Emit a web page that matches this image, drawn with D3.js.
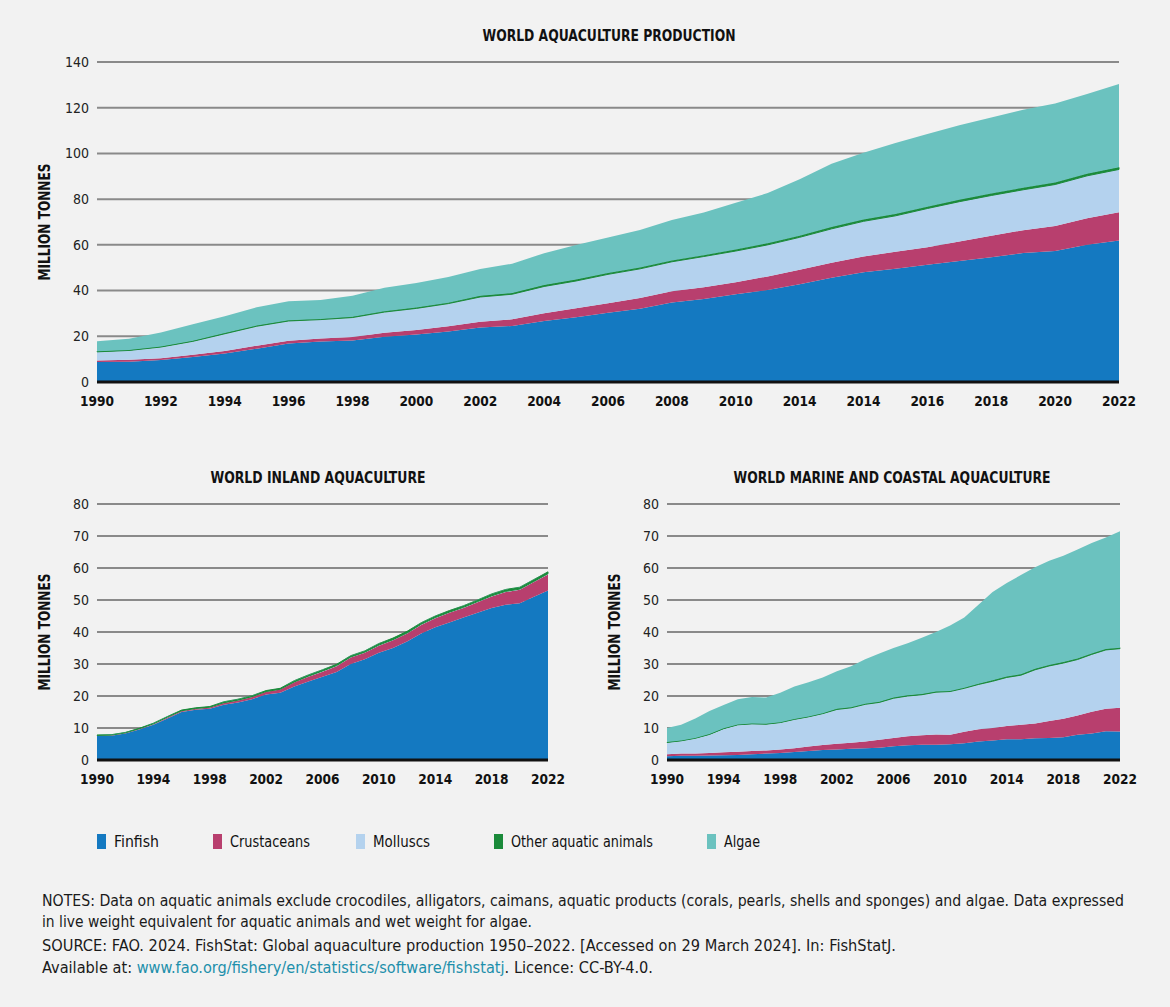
<!DOCTYPE html>
<html>
<head>
<meta charset="utf-8">
<script src="https://cdn.jsdelivr.net/npm/d3@7"></script>
<style>
  body { margin: 0; background: #f2f2f2; }
  svg { font-family: "Liberation Sans Narrow", "DejaVu Sans Condensed", sans-serif; }
  .notes { font-size: 15px; fill: #1a1a1a; }
</style>
</head>
<body>
<div class="chart"></div>
<script>
const years = d3.range(1990, 2023);
const categories = ["Finfish", "Crustaceans", "Molluscs", "Other aquatic animals", "Algae"];
const colors = ["#1479c1", "#b83f6e", "#b4d2ee", "#1a8a3a", "#6bc2bf"];

// inland aquaculture, million tonnes
const inlandFinfish = [7.5,7.6,8.3,9.5,11,13,15,15.7,16,17.3,18,19,20.5,21,23,24.5,26,27.5,30,31.5,33.5,35,37,39.5,41.5,43,44.5,46,47.5,48.5,49,51,53];
const inlandCrustaceans = [0.1,0.1,0.1,0.2,0.2,0.3,0.3,0.3,0.4,0.5,0.6,0.7,0.8,1,1.3,1.5,1.6,1.8,2,2,2.2,2.4,2.5,2.7,2.8,3,3,3.3,3.6,4,4.2,4.6,5];
const inlandMolluscs = [0.1,0.1,0.1,0.1,0.1,0.1,0.1,0.1,0.1,0.1,0.1,0.1,0.1,0.1,0.1,0.2,0.2,0.2,0.2,0.2,0.2,0.2,0.2,0.2,0.2,0.2,0.2,0.2,0.2,0.2,0.2,0.2,0.2];
const inlandOther = [0.1,0.1,0.1,0.1,0.2,0.2,0.2,0.2,0.2,0.3,0.3,0.3,0.3,0.3,0.4,0.4,0.4,0.4,0.4,0.4,0.5,0.5,0.5,0.5,0.5,0.5,0.5,0.5,0.6,0.6,0.6,0.6,0.6];
const inlandAlgae = [0.05,0.05,0.05,0.05,0.05,0.05,0.05,0.05,0.05,0.05,0.05,0.05,0.05,0.05,0.05,0.05,0.05,0.05,0.05,0.05,0.05,0.05,0.05,0.05,0.05,0.05,0.05,0.05,0.05,0.05,0.05,0.05,0.05];

// marine and coastal aquaculture, million tonnes
const marineFinfish = [1.2,1.3,1.3,1.4,1.5,1.6,1.8,2.0,2.2,2.5,2.8,3.1,3.3,3.5,3.7,3.8,4.3,4.6,4.8,4.8,4.9,5.2,5.8,6.1,6.5,6.5,6.8,6.9,7.1,7.9,8.3,9.0,8.9];
const marineCrustaceans = [0.6,0.7,0.7,0.8,0.9,1.0,1.0,1.0,1.1,1.2,1.4,1.6,1.8,1.9,2.1,2.5,2.6,2.8,2.9,3.2,3.0,3.6,3.8,3.9,4.1,4.5,4.6,5.3,5.8,6.0,6.8,7.0,7.4];
const marineMolluscs = [3.7,4.0,4.8,5.8,7.4,8.4,8.5,8.2,8.4,9.0,9.3,9.8,10.7,10.9,11.6,11.7,12.4,12.6,12.7,13.2,13.5,13.6,14.0,14.6,15.2,15.5,16.8,17.2,17.4,17.5,17.9,18.4,18.5];
const marineOther = [0.1,0.1,0.1,0.1,0.1,0.1,0.1,0.1,0.1,0.1,0.1,0.1,0.2,0.2,0.2,0.2,0.2,0.2,0.2,0.2,0.2,0.2,0.2,0.3,0.3,0.3,0.3,0.3,0.3,0.3,0.3,0.3,0.3];
const marineAlgae = [4.4,4.9,6.1,7.2,7.3,7.9,8.3,8.2,9.2,10.2,10.7,11.2,11.7,12.8,13.9,15.1,15.5,16.3,17.6,18.6,20.4,21.9,24.7,27.6,29.2,31.0,31.7,32.6,33.2,34.1,34.5,34.8,36.4];

// top chart tick labels (as printed, incl. the repeated 2014)
const topTickYears = d3.range(1990, 2023, 2);
const topTickLabels = ["1990","1992","1994","1996","1998","2000","2002","2004","2006","2008","2010","2014","2014","2016","2018","2020","2022"];
const bottomTickYears = d3.range(1990, 2023, 4);

const keys = ["finfish", "crustaceans", "molluscs", "other", "algae"];
function rows(series) {
  return years.map((yr, i) => {
    const r = { year: yr };
    keys.forEach((k, j) => r[k] = series[j][i]);
    return r;
  });
}
const inlandRows = rows([inlandFinfish, inlandCrustaceans, inlandMolluscs, inlandOther, inlandAlgae]);
const marineRows = rows([marineFinfish, marineCrustaceans, marineMolluscs, marineOther, marineAlgae]);
const worldRows = inlandRows.map((r, i) => {
  const w = { year: r.year };
  keys.forEach(k => w[k] = r[k] + marineRows[i][k]);
  return w;
});

const W = 1170, H = 1007;
const svg = d3.select(".chart").append("svg").attr("width", W).attr("height", H);
svg.append("rect").attr("width", W).attr("height", H).attr("fill", "#f2f2f2");

function drawChart(opt) {
  const g = svg.append("g").attr("transform", `translate(${opt.left},${opt.top})`);
  const w = opt.width, h = opt.height;
  const x = d3.scaleLinear().domain([1990, 2022]).range([0, w]);
  const y = d3.scaleLinear().domain([0, opt.ymax]).range([h, 0]);

  g.selectAll(".grid").data(d3.range(opt.ystep, opt.ymax + 1, opt.ystep)).join("line")
    .attr("x1", 0).attr("x2", w)
    .attr("y1", d => y(d)).attr("y2", d => y(d))
    .attr("stroke", "#8a8a8a").attr("stroke-width", 2);

  const stack = d3.stack().keys(keys)(opt.data);
  const area = d3.area().x(d => x(d.data.year)).y0(d => y(d[0])).y1(d => y(d[1]));
  g.selectAll(".layer").data(stack).join("path")
    .attr("fill", (d, i) => colors[i])
    .attr("stroke", (d, i) => i === 3 ? colors[3] : "none")
    .attr("stroke-width", 1)
    .attr("d", area);

  g.append("line").attr("x1", 0).attr("x2", w).attr("y1", h).attr("y2", h)
    .attr("stroke", "#111").attr("stroke-width", 3);

  g.selectAll(".ytick").data(d3.range(0, opt.ymax + 1, opt.ystep)).join("text")
    .attr("x", -8).attr("y", d => y(d)).attr("dy", "0.35em")
    .attr("text-anchor", "end").attr("font-size", 14).attr("fill", "#222")
    .text(d => d);

  g.selectAll(".xtick").data(opt.tickYears).join("text")
    .attr("x", d => x(d)).attr("y", h + 24)
    .attr("text-anchor", "middle").attr("font-size", 14).attr("font-weight", "bold").attr("fill", "#111")
    .attr("textLength", 34).attr("lengthAdjust", "spacingAndGlyphs")
    .text((d, i) => opt.tickLabels ? opt.tickLabels[i] : d);

  g.append("text").attr("x", opt.titleX).attr("y", opt.titleY)
    .attr("text-anchor", "middle").attr("font-size", 16).attr("font-weight", "bold").attr("fill", "#111")
    .attr("textLength", opt.titleLen).attr("lengthAdjust", "spacingAndGlyphs")
    .text(opt.title);

  g.append("text").attr("transform", `translate(${opt.ylabelX},${h / 2}) rotate(-90)`)
    .attr("text-anchor", "middle").attr("font-size", 16).attr("font-weight", "bold").attr("fill", "#111")
    .attr("textLength", 117).attr("lengthAdjust", "spacingAndGlyphs")
    .text("MILLION TONNES");
}

drawChart({ data: worldRows, left: 97, top: 62, width: 1022, height: 320, ymax: 140, ystep: 20,
  tickYears: topTickYears, tickLabels: topTickLabels, title: "WORLD AQUACULTURE PRODUCTION",
  titleX: 512, titleLen: 253, titleY: -21, ylabelX: -47 });
drawChart({ data: inlandRows, left: 97, top: 504, width: 451, height: 256, ymax: 80, ystep: 10,
  tickYears: bottomTickYears, title: "WORLD INLAND AQUACULTURE",
  titleX: 221, titleLen: 215, titleY: -21, ylabelX: -47 });
drawChart({ data: marineRows, left: 667, top: 504, width: 453, height: 256, ymax: 80, ystep: 10,
  tickYears: bottomTickYears, title: "WORLD MARINE AND COASTAL AQUACULTURE",
  titleX: 225, titleLen: 317, titleY: -21, ylabelX: -47 });

// legend
const legendX = [97, 213, 356, 494, 707];
const legendLen = [45, 80, 57, 142, 36];
const legend = svg.selectAll(".legend").data(categories).join("g")
  .attr("transform", (d, i) => `translate(${legendX[i]},841)`);
legend.append("rect").attr("x", 0).attr("y", -7).attr("width", 9).attr("height", 15)
  .attr("fill", (d, i) => colors[i]);
legend.append("text").attr("x", 17).attr("dy", "0.35em").attr("font-size", 16).attr("fill", "#111")
  .attr("textLength", (d, i) => legendLen[i]).attr("lengthAdjust", "spacingAndGlyphs")
  .text(d => d);

// notes
const notes = svg.append("g").attr("class", "notes");
notes.append("text").attr("x", 42).attr("y", 906).attr("textLength", 1082).attr("lengthAdjust", "spacingAndGlyphs")
  .text("NOTES: Data on aquatic animals exclude crocodiles, alligators, caimans, aquatic products (corals, pearls, shells and sponges) and algae. Data expressed");
notes.append("text").attr("x", 42).attr("y", 927).attr("textLength", 490).attr("lengthAdjust", "spacingAndGlyphs")
  .text("in live weight equivalent for aquatic animals and wet weight for algae.");
notes.append("text").attr("x", 42).attr("y", 951).attr("textLength", 854).attr("lengthAdjust", "spacingAndGlyphs")
  .text("SOURCE: FAO. 2024. FishStat: Global aquaculture production 1950–2022. [Accessed on 29 March 2024]. In: FishStatJ.");
const avail = notes.append("text").attr("x", 42).attr("y", 973).attr("textLength", 611).attr("lengthAdjust", "spacingAndGlyphs");
avail.append("tspan").text("Available at: ");
avail.append("tspan").attr("fill", "#1d8fab").text("www.fao.org/fishery/en/statistics/software/fishstatj");
avail.append("tspan").text(". Licence: CC-BY-4.0.");
</script>
</body>
</html>
